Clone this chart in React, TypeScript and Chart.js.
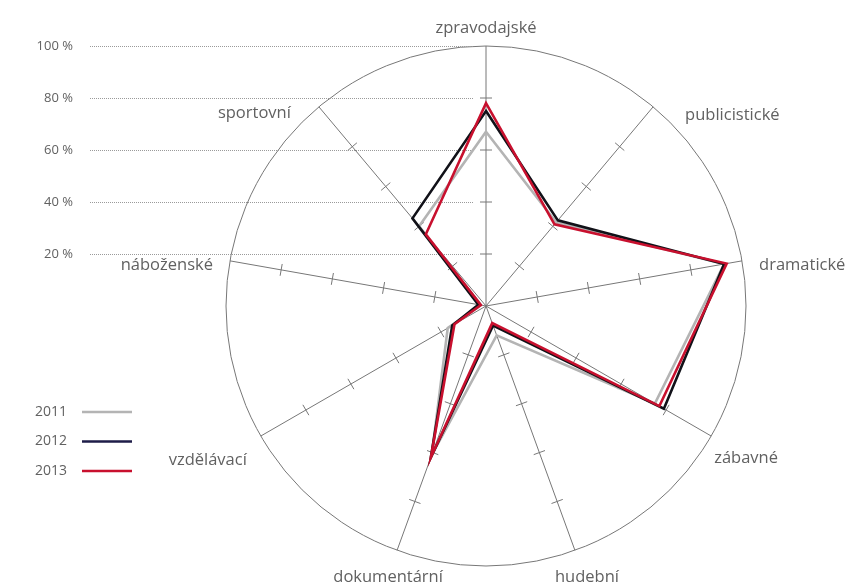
import React, { useEffect, useRef } from "react";
import { Chart, registerables } from "chart.js";

Chart.register(...registerables);

const categories = [
  "zpravodajské",
  "publicistické",
  "dramatické",
  "zábavné",
  "hudební",
  "dokumentární",
  "vzdělávací",
  "náboženské",
  "sportovní",
];
const years = ["2011", "2012", "2013"];
const values2011 = [67, 42, 93, 75, 12, 61, 17, 2, 40];
const values2012 = [75, 43, 93, 79, 8, 62, 15, 3, 44];
const values2013 = [78, 41, 94, 77, 7, 62, 14, 2, 36];
const scaleTickValues = [20, 40, 60, 80, 100];
const scaleTickLabels = ["20 %", "40 %", "60 %", "80 %", "100 %"];
const axisTickValues = [20, 40, 60, 80];

const seriesColors = ["#b4b4b4", "#111118", "#c8102e"];
const legendColors = ["#b4b4b4", "#1e1c48", "#c8102e"];

const FONT = '"Open Sans", "DejaVu Sans", sans-serif';
const TEXT = "#616161";

// label placement relative to the end of each axis
const labelPlacement: { dx: number; dy: number; align: CanvasTextAlign }[] = [
  { dx: 0, dy: -18, align: "center" },
  { dx: 32, dy: 8, align: "left" },
  { dx: 17, dy: 4, align: "left" },
  { dx: 3, dy: 22, align: "left" },
  { dx: 12, dy: 27, align: "center" },
  { dx: -9, dy: 27, align: "center" },
  { dx: -14, dy: 24, align: "right" },
  { dx: -17, dy: 4, align: "right" },
  { dx: -28, dy: 6, align: "right" },
];

const decorPlugin = {
  id: "decor",
  beforeDatasetsDraw(chart: any) {
    const r = chart.scales.r;
    const ctx: CanvasRenderingContext2D = chart.ctx;
    ctx.save();
    // tick marks on axes
    ctx.strokeStyle = "#777777";
    ctx.lineWidth = 1;
    for (let i = 0; i < categories.length; i++) {
      const angle = r.getIndexAngle(i) - Math.PI / 2;
      const px = -Math.sin(angle);
      const py = Math.cos(angle);
      for (const v of axisTickValues) {
        const d = r.getDistanceFromCenterForValue(v);
        const p = r.getPointPosition(i, d);
        ctx.beginPath();
        ctx.moveTo(p.x - px * 6, p.y - py * 6);
        ctx.lineTo(p.x + px * 6, p.y + py * 6);
        ctx.stroke();
      }
    }
    // dotted reference lines + scale labels
    ctx.strokeStyle = "#9a9a9a";
    ctx.setLineDash([1, 1]);
    ctx.fillStyle = TEXT;
    ctx.font = `13px ${FONT}`;
    ctx.textAlign = "right";
    ctx.textBaseline = "middle";
    scaleTickValues.forEach((v, k) => {
      const y = Math.round(r.yCenter - r.getDistanceFromCenterForValue(v)) + 0.5;
      ctx.beginPath();
      ctx.moveTo(90, y);
      ctx.lineTo(r.xCenter - 12, y);
      ctx.stroke();
      ctx.fillText(scaleTickLabels[k], 73, y);
    });
    ctx.setLineDash([]);
    ctx.restore();
  },
  afterDraw(chart: any) {
    const r = chart.scales.r;
    const ctx: CanvasRenderingContext2D = chart.ctx;
    ctx.save();
    // category labels
    ctx.fillStyle = TEXT;
    ctx.font = `16.5px ${FONT}`;
    ctx.textBaseline = "middle";
    categories.forEach((c, i) => {
      const p = r.getPointPosition(i, r.drawingArea);
      const pl = labelPlacement[i];
      ctx.textAlign = pl.align;
      ctx.fillText(c, p.x + pl.dx, p.y + pl.dy);
    });
    // legend
    ctx.font = `14px ${FONT}`;
    ctx.textAlign = "left";
    years.forEach((y, k) => {
      const yy = 412 + k * 29.5;
      ctx.fillStyle = TEXT;
      ctx.fillText(y, 35, yy);
      ctx.strokeStyle = legendColors[k];
      ctx.lineWidth = 2.5;
      ctx.beginPath();
      ctx.moveTo(82, yy);
      ctx.lineTo(132, yy);
      ctx.stroke();
    });
    ctx.restore();
  },
};

export default function App() {
  const canvasRef = useRef<HTMLCanvasElement | null>(null);

  useEffect(() => {
    document.body.style.margin = "0";
    const canvas = canvasRef.current;
    if (!canvas) return;
    const seriesValues = [values2011, values2012, values2013];
    const chart = new Chart(canvas, {
      type: "radar",
      data: {
        labels: categories,
        datasets: years.map((y, k) => ({
          label: y,
          data: seriesValues[k],
          borderColor: seriesColors[k],
          backgroundColor: "transparent",
          borderWidth: 2.6,
          borderJoinStyle: "miter" as CanvasLineJoin,
          pointRadius: 0,
          pointHoverRadius: 0,
          fill: false,
          tension: 0,
          order: 3 - k,
        })),
      },
      options: {
        responsive: false,
        animation: false,
        devicePixelRatio: 1,
        layout: { padding: { left: 226, right: 102, top: 46, bottom: 21 } },
        plugins: {
          legend: { display: false },
          tooltip: { enabled: false },
        },
        scales: {
          r: {
            min: 0,
            max: 100,
            ticks: { display: false, stepSize: 100 },
            pointLabels: { display: false },
            grid: { circular: true, color: "#777777", lineWidth: 1 },
            angleLines: { display: true, color: "#777777", lineWidth: 1 },
          },
        },
      },
      plugins: [decorPlugin],
    });
    return () => chart.destroy();
  }, []);

  return (
    <canvas
      ref={canvasRef}
      width={848}
      height={587}
      style={{ display: "block", width: 848, height: 587 }}
    />
  );
}
